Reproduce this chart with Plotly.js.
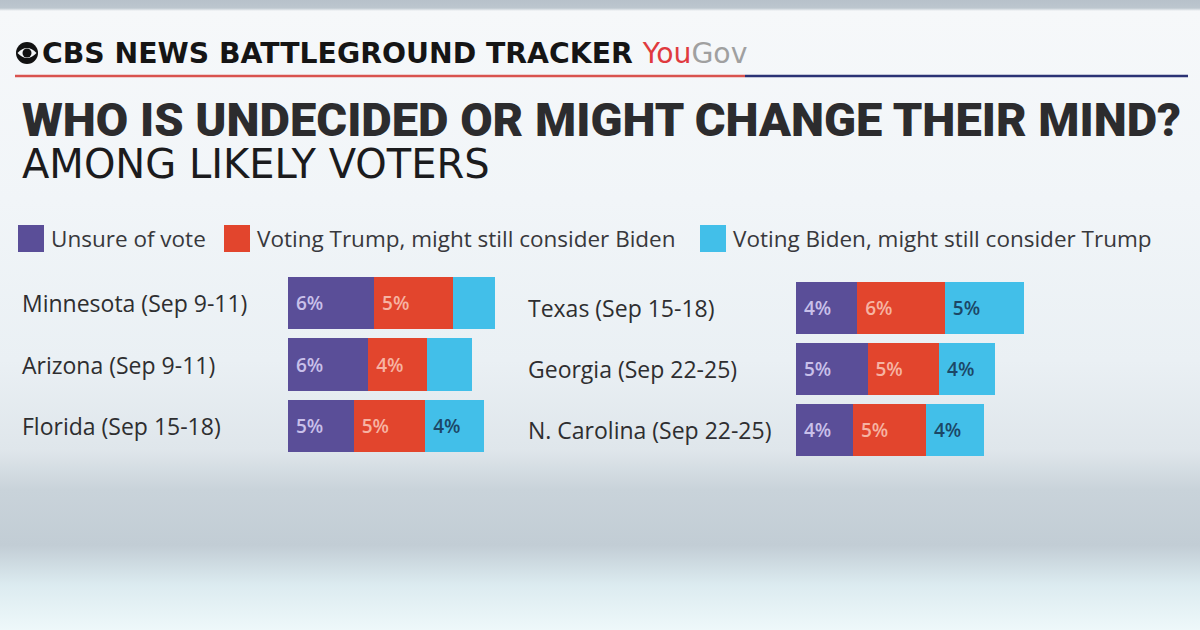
<!DOCTYPE html>
<html>
<head>
<meta charset="utf-8">
<script src="https://cdn.plot.ly/plotly-3.0.1.min.js"></script>
<style>
  html, body { margin:0; padding:0; width:1200px; height:630px; overflow:hidden; }
  body {
    background: linear-gradient(to bottom,
      #b7c1ca 0px, #bcc6ce 8px, #f6f8fa 11px, #f1f5f8 200px, #eaf0f4 360px,
      #dfe6eb 450px, #c9d3da 490px, #c2cdd5 545px, #dcebf0 585px, #eef8fa 630px);
  }
  #chart { width:1200px; height:630px; }
</style>
</head>
<body>
<div id="chart"></div>
<script>
// ---- data ----
const leftStates  = ["Minnesota (Sep 9-11)", "Arizona (Sep 9-11)", "Florida (Sep 15-18)"];
const rightStates = ["Texas (Sep 15-18)", "Georgia (Sep 22-25)", "N. Carolina (Sep 22-25)"];
const seriesNames = ["Unsure of vote", "Voting Trump, might still consider Biden", "Voting Biden, might still consider Trump"];

const unsureLeft   = [5.9, 5.5, 4.5];
const trumpLeft    = [5.4, 4.0, 4.9];
const bidenLeft    = [2.9, 3.1, 4.0];
const unsureRight  = [4.2, 4.9, 3.9];
const trumpRight   = [6.0, 4.9, 5.0];
const bidenRight   = [5.4, 3.8, 4.0];

const unsureLeftLbl  = ["6%", "6%", "5%"];
const trumpLeftLbl   = ["5%", "4%", "5%"];
const bidenLeftLbl   = ["", "", "4%"];
const unsureRightLbl = ["4%", "5%", "4%"];
const trumpRightLbl  = ["6%", "5%", "5%"];
const bidenRightLbl  = ["5%", "4%", "4%"];

const titleText    = "WHO IS UNDECIDED OR MIGHT CHANGE THEIR MIND?";
const subtitleText = "AMONG LIKELY VOTERS";

// ---- styles ----
const colors    = ["#5a4e98", "#e2452d", "#42bfe9"];
const txtColors = ["#c9c0ea", "#f6b3a2", "#1c4766"];
const W = 1200, H = 630;
const pxPerPct = 14.6;

function px(x){ return x / W; }
function py(y){ return 1 - y / H; }

const leftVals  = [unsureLeft, trumpLeft, bidenLeft];
const rightVals = [unsureRight, trumpRight, bidenRight];
const leftLbls  = [unsureLeftLbl, trumpLeftLbl, bidenLeftLbl];
const rightLbls = [unsureRightLbl, trumpRightLbl, bidenRightLbl];

const traces = [];
for (let i = 0; i < 3; i++) {
  const common = {
    type: "bar", orientation: "h", name: seriesNames[i],
    marker: { color: colors[i], line: { width: 0 } },
    textposition: "inside", insidetextanchor: "start",
    texttemplate: "\u00a0%{text}",
    textfont: { family: "Open Sans, sans-serif", size: 19, color: txtColors[i], weight: 600 },
    constraintext: "none", hoverinfo: "skip", showlegend: false, width: 0.845
  };
  traces.push(Object.assign({}, common, { x: leftVals[i],  y: leftStates,  text: leftLbls[i],  xaxis: "x",  yaxis: "y"  }));
  traces.push(Object.assign({}, common, { x: rightVals[i], y: rightStates, text: rightLbls[i], xaxis: "x2", yaxis: "y2" }));
}

const panelW = 260;
const leftX0 = 288, rightX0 = 796;
const axBase = { showgrid: false, zeroline: false, showticklabels: false, ticks: "", showline: false, fixedrange: true, range: [0, panelW / pxPerPct] };
const yBase  = { showgrid: false, zeroline: false, showticklabels: false, ticks: "", showline: false, autorange: "reversed", type: "category" };

const labelFont = { family: "Open Sans, sans-serif", size: 23, color: "#2e2e30" };
const annotations = [];
// category labels
leftStates.forEach(s => annotations.push({ x: px(20), xref: "paper", y: s, yref: "y", text: s, showarrow: false, xanchor: "left", yanchor: "middle", font: labelFont }));
rightStates.forEach(s => annotations.push({ x: px(526), xref: "paper", y: s, yref: "y2", text: s, showarrow: false, xanchor: "left", yanchor: "middle", font: labelFont }));

// header
annotations.push({ x: px(40), y: py(53), xref: "paper", yref: "paper", xanchor: "left", yanchor: "middle", showarrow: false,
  text: "CBS NEWS BATTLEGROUND TRACKER <span style='color:#e03a3e;font-weight:400'>You</span><span style='color:#a0a0a0;font-weight:400'>Gov</span>",
  font: { family: "DejaVu Sans, sans-serif", size: 28.3, color: "#151515", weight: 700 } });
// title + subtitle (one block, two lines)
annotations.push({ x: px(20), y: py(139), xref: "paper", yref: "paper", xanchor: "left", yanchor: "middle", align: "left", showarrow: false,
  text: "<span style='font-family:Roboto, Liberation Sans, sans-serif;font-size:47px;font-weight:900;fill:#2c2c2e'>" + titleText + "</span><br>" +
        "<span style='font-family:DejaVu Sans, sans-serif;font-size:40px;font-weight:400;fill:#1b1b1d'>" + subtitleText + "</span>",
  font: { family: "DejaVu Sans, sans-serif", size: 32, color: "#1b1b1d" } });

// legend
const legX = [18, 224, 700];
const shapes = [];
for (let i = 0; i < 3; i++) {
  shapes.push({ type: "rect", xref: "paper", yref: "paper", x0: px(legX[i]), x1: px(legX[i] + 26), y0: py(252), y1: py(225), fillcolor: colors[i], line: { width: 0 } });
  annotations.push({ x: px(legX[i] + 31), y: py(238), xref: "paper", yref: "paper", xanchor: "left", yanchor: "middle", showarrow: false,
    text: seriesNames[i], font: { family: "Open Sans, sans-serif", size: 22.5, color: "#38383c" } });
}

// header rule
shapes.push({ type: "line", xref: "paper", yref: "paper", x0: px(15), x1: px(745), y0: py(76), y1: py(76), line: { color: "#d9534f", width: 2.5 } });
shapes.push({ type: "line", xref: "paper", yref: "paper", x0: px(745), x1: px(1188), y0: py(76), y1: py(76), line: { color: "#2b3275", width: 2.5 } });
// CBS eye logo
shapes.push({ type: "circle", xref: "paper", yref: "paper", x0: px(16), x1: px(38), y0: py(64), y1: py(42), fillcolor: "#111", line: { width: 0 } });
shapes.push({ type: "path", xref: "paper", yref: "paper",
  path: "M " + px(17.5) + "," + py(53) + " Q " + px(27) + "," + py(43) + " " + px(36.5) + "," + py(53) + " Q " + px(27) + "," + py(63) + " " + px(17.5) + "," + py(53) + " Z",
  fillcolor: "#f4f6f8", line: { width: 0 } });
shapes.push({ type: "circle", xref: "paper", yref: "paper", x0: px(22.5), x1: px(31.5), y0: py(57.5), y1: py(48.5), fillcolor: "#111", line: { width: 0 } });

const layout = {
  width: W, height: H,
  margin: { l: 0, r: 0, t: 0, b: 0 },
  paper_bgcolor: "rgba(0,0,0,0)", plot_bgcolor: "rgba(0,0,0,0)",
  barmode: "stack", bargap: 0.155,
  showlegend: false,
  xaxis:  Object.assign({}, axBase, { domain: [px(leftX0),  px(leftX0 + panelW)],  anchor: "y" }),
  xaxis2: Object.assign({}, axBase, { domain: [px(rightX0), px(rightX0 + panelW)], anchor: "y2" }),
  yaxis:  Object.assign({}, yBase, { domain: [py(457), py(272)], anchor: "x" }),
  yaxis2: Object.assign({}, yBase, { domain: [py(461), py(277)], anchor: "x2" }),
  annotations: annotations,
  shapes: shapes
};

Plotly.newPlot("chart", traces, layout, { displayModeBar: false, staticPlot: true });
</script>
</body>
</html>
